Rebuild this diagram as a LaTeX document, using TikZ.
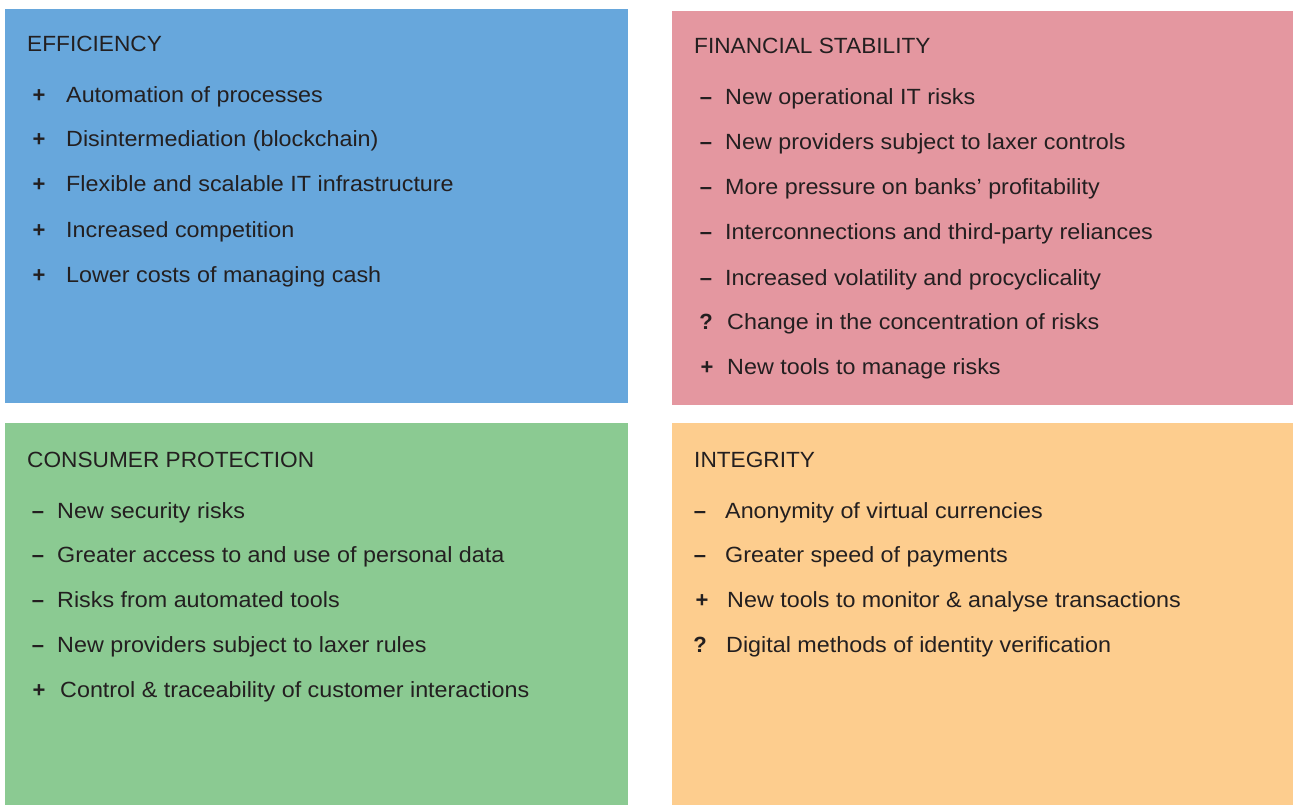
\documentclass[tikz,border=0pt]{standalone}
\usepackage{fontspec}
\setmainfont{Liberation Sans}
\newfontfamily\bodyfont[FakeStretch=1.06]{Liberation Sans}
\newfontfamily\headfont[FakeStretch=1.03]{Liberation Sans}

\definecolor{effblue}{HTML}{67A7DC}
\definecolor{stabpink}{HTML}{E497A0}
\definecolor{consgreen}{HTML}{8BCA92}
\definecolor{integorange}{HTML}{FDCD8E}
\definecolor{ink}{HTML}{231F20}

\tikzset{
  head/.style={font=\headfont\fontsize{22}{26}\selectfont, anchor=base west, inner sep=0pt, text=ink},
  item/.style={font=\bodyfont\fontsize{22}{26}\selectfont, anchor=base west, inner sep=0pt, text=ink},
  sign/.style={font=\fontsize{22}{26}\selectfont\bfseries, anchor=base, inner sep=0pt, text=ink}
}

\begin{document}
\begin{tikzpicture}[x=1pt,y=-1pt]
\useasboundingbox (0,0) rectangle (1293,805);

% the four panels
\fill[effblue]     (5,9)    rectangle (628,403);
\fill[stabpink]    (672,11) rectangle (1293,405);
\fill[consgreen]   (5,423)  rectangle (628,805);
\fill[integorange] (672,423) rectangle (1293,805);

% efficiency
\node[head] (eff) at (27,52) {EFFICIENCY};
\begin{scope}[every node/.style={item}]
    \node (eff1) at (66,103) {Automation of processes};
    \node (eff2) at (66,147) {Disintermediation (blockchain)};
    \node (eff3) at (66,192) {Flexible and scalable IT infrastructure};
    \node (eff4) at (66,237) {Increased competition};
    \node (eff5) at (66,282) {Lower costs of managing cash};
\end{scope}
\begin{scope}[every node/.style={sign}]
    \node (eff1s) at (39,103) {+};
    \node (eff2s) at (39,147) {+};
    \node (eff3s) at (39,192) {+};
    \node (eff4s) at (39,237) {+};
    \node (eff5s) at (39,282) {+};
\end{scope}

% financial stability
\node[head] (stab) at (694,54) {FINANCIAL STABILITY};
\begin{scope}[every node/.style={item}]
    \node (stab1) at (725,105) {New operational IT risks};
    \node (stab2) at (725,150) {New providers subject to laxer controls};
    \node (stab3) at (725,195) {More pressure on banks’ profitability};
    \node (stab4) at (725,240) {Interconnections and third-party reliances};
    \node (stab5) at (725,285) {Increased volatility and procyclicality};
    \node (stab6) at (727,329) {Change in the concentration of risks};
    \node (stab7) at (727,374) {New tools to manage risks};
\end{scope}
\begin{scope}[every node/.style={sign}]
    \node (stab1s) at (706,105) {\textendash};
    \node (stab2s) at (706,150) {\textendash};
    \node (stab3s) at (706,195) {\textendash};
    \node (stab4s) at (706,240) {\textendash};
    \node (stab5s) at (706,285) {\textendash};
    \node (stab6s) at (706,329) {?};
    \node (stab7s) at (707,374) {+};
\end{scope}

% consumer protection
\node[head] (cons) at (27,467) {CONSUMER PROTECTION};
\begin{scope}[every node/.style={item}]
    \node (cons1) at (57,518) {New security risks};
    \node (cons2) at (57,562) {Greater access to and use of personal data};
    \node (cons3) at (57,607) {Risks from automated tools};
    \node (cons4) at (57,652) {New providers subject to laxer rules};
    \node (cons5) at (60,697) {Control \& traceability of customer interactions};
\end{scope}
\begin{scope}[every node/.style={sign}]
    \node (cons1s) at (38,518) {\textendash};
    \node (cons2s) at (38,562) {\textendash};
    \node (cons3s) at (38,607) {\textendash};
    \node (cons4s) at (38,652) {\textendash};
    \node (cons5s) at (39,697) {+};
\end{scope}

% integrity
\node[head] (integ) at (694,467) {INTEGRITY};
\begin{scope}[every node/.style={item}]
    \node (integ1) at (725,518) {Anonymity of virtual currencies};
    \node (integ2) at (725,562) {Greater speed of payments};
    \node (integ3) at (727,607) {New tools to monitor \& analyse transactions};
    \node (integ4) at (726,652) {Digital methods of identity verification};
\end{scope}
\begin{scope}[every node/.style={sign}]
    \node (integ1s) at (700,518) {\textendash};
    \node (integ2s) at (700,562) {\textendash};
    \node (integ3s) at (702,607) {+};
    \node (integ4s) at (700,652) {?};
\end{scope}
\end{tikzpicture}
\end{document}
